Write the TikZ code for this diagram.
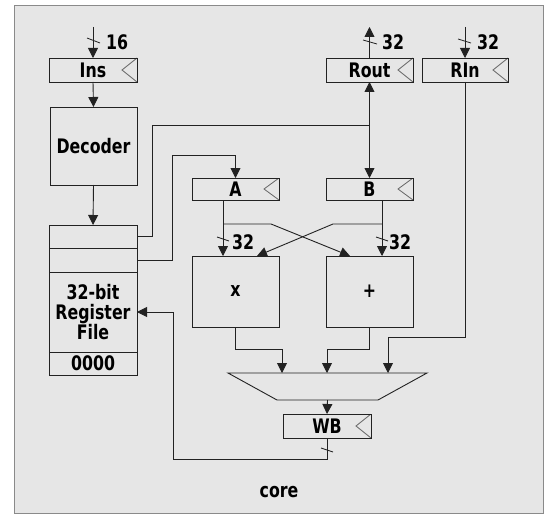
\documentclass[tikz,border=0pt]{standalone}
\usepackage{fontspec}
\newfontfamily\labfont{DejaVu Sans Bold}[FakeStretch=0.79]
\usetikzlibrary{arrows.meta,calc}
\definecolor{bg}{HTML}{E6E6E6}
\definecolor{framec}{HTML}{8A8A8A}
\definecolor{ln}{HTML}{222222}
\definecolor{clk}{HTML}{666666}
\tikzset{
  box/.style={draw=ln, line width=0.9pt, minimum width=88pt, minimum height=24pt,
    inner sep=0pt, outer sep=0pt, font=\labfont\fontsize{20}{20}\selectfont},
  regbox/.style={box, path picture={\draw[draw=clk, line width=0.8pt]
    (path picture bounding box.north east) -- ([xshift=-15pt]path picture bounding box.east)
    -- (path picture bounding box.south east);}},
  wire/.style={draw=ln, line width=0.9pt},
  arr/.style={wire, -{Triangle[length=10pt,width=10pt]}},
  biarr/.style={wire, {Triangle[length=10pt,width=10pt]}-{Triangle[length=10pt,width=10pt]}},
  lbl/.style={font=\labfont\fontsize{20}{20}\selectfont, inner sep=0pt, text=black},
  busmark/.style={draw=ln, line width=0.8pt},
}
\begin{document}
\begin{tikzpicture}[x=1pt,y=-1pt]
\useasboundingbox (0,0) rectangle (551,516);
\fill[white] (0,0) rectangle (551,516);
\draw[draw=framec, fill=bg, line width=1pt] (14,6) rectangle (543,513);

% boxes
\node[regbox] (ins) at (93,70) {Ins};
\node[box, minimum width=87pt, minimum height=78pt] (dec) at (93.5,146) {Decoder};
\node[box, minimum height=23pt] (rf1) at (93,236.5) {};
\node[box] (rf2) at (93,260) {};
\node[box, minimum height=80pt, align=center] (rf3) at (93,312) {32-bit\\Register\\File};
\node[box, minimum height=23pt] (rf4) at (93,363.5) {0000};
\node[regbox, minimum width=87pt] (rout) at (369.5,70) {Rout};
\node[regbox, minimum width=86pt] (rin) at (465,70) {RIn};
\node[regbox, minimum width=87pt, minimum height=22pt] (a) at (235.5,189) {A};
\node[regbox, minimum width=87pt, minimum height=22pt] (b) at (369.5,189) {B};
\node[box, minimum width=87pt, minimum height=71pt] (mul) at (235.5,291.5) {x};
\node[box, minimum width=87pt, minimum height=71pt] (add) at (369.5,291.5) {+};
\node[minimum width=199pt, minimum height=27pt, inner sep=0pt, outer sep=0pt] (mux) at (327.5,386.5) {};
\node[regbox, minimum width=88pt] (wb) at (327,426) {WB};
\node[lbl] (core) at (279,492) {core};

% mux shape
\draw[wire] (mux.north west) -- (mux.north east) -- ([xshift=-49pt]mux.south east)
  -- ([xshift=49pt]mux.south west) -- cycle;
\coordinate (m1) at (282,373);
\coordinate (m2) at (327,373);
\coordinate (m3) at (388,373);

% inputs / outputs on top
\coordinate (insin) at (93,27);
\draw[arr] (insin) -- (ins.north);
\draw[busmark] (87,38) -- (100,43);
\node[lbl, anchor=west] (w16) at (106,42) {16};

\coordinate (routout) at (369.5,27);
\draw[arr] (rout.north) -- (routout);
\draw[busmark] (363,40) -- (377,44);
\node[lbl, anchor=west] (w32a) at (382,42) {32};

\coordinate (rinin) at (465,27);
\draw[arr] (rinin) -- (rin.north);
\draw[busmark] (458,39) -- (471,43);
\node[lbl, anchor=west] (w32b) at (477,42) {32};

% decoder path
\draw[arr] (ins.south) -- (dec.north);
\draw[arr] (dec.south) -- (rf1.north);

% register file outputs
\coordinate (j) at (369.5,125);
\draw[wire] (rf1.east) -- ++(15,0) |- (j);
\draw[biarr] (rout.south) -- (b.north);
\coordinate (aj) at (235.5,155);
\draw[arr] (rf2.east) -- ++(35,0) |- (aj) -- (a.north);

% A and B outputs
\coordinate (ao) at ([xshift=-12.5pt]a.south);
\coordinate (bo) at ([xshift=12.5pt]b.south);
\draw[arr] (ao) -- (ao |- mul.north);
\draw[arr] (bo) -- (bo |- add.north);
\draw[arr] (ao |- 0,224) -- (271,224) -- ([xshift=24pt]add.north west);
\draw[arr] (bo |- 0,224) -- (333,224) -- ([xshift=65pt]mul.north west);
\draw[busmark] (217,237) -- (229,241);
\draw[busmark] (376,237) -- (388,241);
\node[lbl, anchor=west] (w32c) at (232,242) {32};
\node[lbl, anchor=west] (w32d) at (389,242) {32};

% to mux
\draw[arr] (mul.south) -- ++(0,22) -| (m1);
\draw[arr] (add.south) -- ++(0,22) -| (m2);
\draw[arr] (rin.south) -- (465,337) -| (m3);

% writeback
\draw[arr] (mux.south) -- (wb.north);
\draw[arr] (wb.south) -- ++(0,21) -| ($(rf3.east)+(36,0)$) -- (rf3.east);
\draw[busmark] (321,448) -- (333,452);
\end{tikzpicture}
\end{document}
